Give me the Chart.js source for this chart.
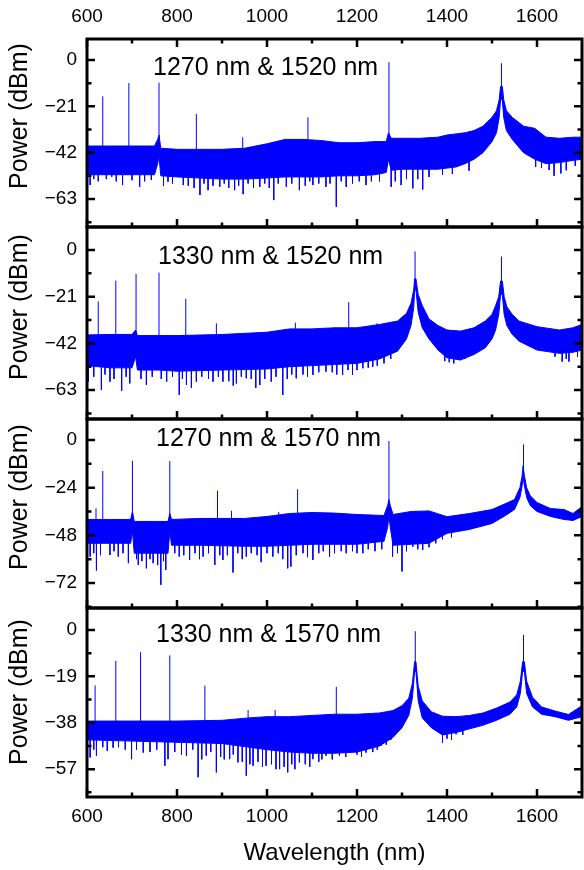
<!DOCTYPE html>
<html>
<head>
<meta charset="utf-8">
<script src="https://cdn.jsdelivr.net/npm/chart.js@4.4.1/dist/chart.umd.min.js"></script>
<style>
  body { margin: 0; background: #fff; }
  #wrap { position: relative; width: 584px; height: 870px; overflow: hidden; background: #fff; }
  canvas { position: absolute; left: 0; }
</style>
</head>
<body>
<div id="wrap">
  <canvas id="c1" width="584" height="229" style="top:0px;width:584px;height:229px"></canvas>
  <canvas id="c2" width="584" height="196" style="top:225px;width:584px;height:196px"></canvas>
  <canvas id="c3" width="584" height="193" style="top:417px;width:584px;height:193px"></canvas>
  <canvas id="c4" width="584" height="264" style="top:606px;width:584px;height:264px"></canvas>
</div>
<script>
// shared x axis
const xTicks = [600, 700, 800, 900, 1000, 1100, 1200, 1300, 1400, 1500, 1600];
const xMajor = [600, 800, 1000, 1200, 1400, 1600];

// ---- panel 1 : 1270 nm & 1520 nm ----
const p1YMajor = [0, -21, -42, -63];
const p1YMinor = [-10.5, -31.5, -52.5, -73.5];
// noise band, upper / lower edge
const p1Wl = [600, 650, 700, 750, 757, 760, 764, 800, 850, 900, 950, 1000, 1040, 1080, 1120, 1160, 1200, 1240, 1265, 1270, 1276, 1300, 1340, 1380, 1400, 1420, 1440, 1460, 1480, 1500, 1510, 1516, 1519, 1523, 1526, 1532, 1545, 1570, 1595, 1620, 1650, 1680, 1700];
const p1Hi = [-39, -39, -39, -39, -36, -34, -40, -40.5, -40.5, -40.5, -40, -38, -36, -36, -36.5, -37.5, -37.5, -37, -37, -33, -35.5, -35.5, -35.5, -35, -34, -33.5, -33, -32, -30, -26, -23, -18, -12, -12, -18, -23, -26, -30, -31, -35, -35.5, -35, -35];
const p1Lo = [-52, -52, -52, -52, -47, -44, -52.5, -53, -53.5, -54, -54, -53.5, -53, -53, -53, -52.5, -52.5, -52, -51, -45, -50, -49.5, -49.5, -49.5, -49, -48.5, -47, -45, -42, -37, -33, -26, -18, -18, -26, -32, -36, -42, -45, -47, -46.5, -45.5, -45];
// sharp lines [wavelength, from, to]
const p1Up = [[635, -42, -16.5], [693, -42, -10.5], [760, -40, -10.3], [843, -44, -24.5], [946, -44, -35], [1091, -40, -26], [1271, -38, -1], [1521, -15, -1.5]];
// downward noise spikes [wavelength, to]
const p1DipTop = -44;
const p1Down = [[607, -56.7], [655, -52.9], [679, -56.7], [717, -57.5], [743, -54.4], [780, -55.2], [814, -56.7], [851, -61.2], [869, -59], [895, -57.5], [928, -59], [947, -60.8], [984, -57.5], [1015, -63.5], [1043, -57.5], [1072, -59], [1102, -56.7], [1131, -57.5], [1154, -66.5], [1176, -57.5], [1220, -56.7], [1276, -57.5], [1298, -56.7], [1324, -58.2], [1346, -58.7], [1412, -51.7], [1449, -50.2], [1597, -48.4], [1627, -49.9], [1638, -52.5], [1653, -51.4]];
const p1Fringe = [[615, -54], [625, -55], [643, -54], [665, -55], [700, -54.5], [728, -55], [770, -57], [790, -56], [825, -57], [838, -58], [860, -56], [880, -57], [905, -56], [915, -58], [937, -57], [958, -56], [970, -58], [995, -56], [1005, -58], [1025, -56], [1055, -56], [1085, -57], [1095, -55], [1115, -56], [1140, -56], [1165, -55], [1190, -56], [1205, -55], [1232, -55], [1250, -55], [1285, -55], [1310, -54], [1335, -54], [1360, -53], [1390, -52], [1610, -49], [1665, -50], [1685, -48]];

// ---- panel 2 : 1330 nm & 1520 nm ----
const p2YMajor = [0, -21, -42, -63];
const p2YMinor = [-10.5, -31.5, -52.5, -73.5];
const p2Wl = [600, 650, 700, 708, 712, 760, 800, 900, 1000, 1050, 1100, 1150, 1200, 1250, 1290, 1310, 1320, 1326, 1328, 1331, 1336, 1345, 1360, 1380, 1400, 1430, 1460, 1485, 1500, 1508, 1515, 1519, 1523, 1527, 1533, 1545, 1560, 1600, 1650, 1680, 1700];
const p2Hi = [-38.2, -38, -38, -36, -38.5, -38.5, -38.5, -38, -37, -35.5, -35.5, -35, -35, -33.5, -32, -28.5, -24, -18, -13, -13, -20, -25, -31, -34, -36, -36.5, -35, -32, -29, -25, -21, -14, -14, -21, -25.5, -29, -32, -34.5, -36, -35, -33.5];
const p2Lo = [-52, -53, -53, -48, -54, -54, -54.5, -54, -53.5, -52.5, -52, -51.5, -51, -49, -45.5, -40, -34, -26, -18, -18, -28, -35, -40, -45, -48.5, -49.5, -47, -44, -40, -36, -29, -20, -20, -29, -34, -38, -41, -45, -46.5, -46, -45];
const p2Up = [[625, -44, -23.2], [664, -44, -13.8], [709, -42, -10.8], [760, -42, -10.2], [819.5, -44, -22], [887.5, -44, -33], [1063, -40, -32.7], [1181.6, -40, -23.5], [1244, -40, -33], [1329, -16, -0.7], [1521, -17, -3]];
const p2DipTop = -44;
const p2Down = [[603, -59.2], [632, -62.9], [651, -59.2], [677, -63.3], [695, -60], [732, -60.7], [777, -59.2], [805, -65.2], [821, -60.7], [843, -59.2], [880, -59.2], [902, -59.2], [932, -60], [954, -57.7], [984, -60.7], [1009.5, -59.2], [1035, -65.2], [1065, -57.7], [1102, -56.2], [1131, -54.7], [1168, -56.2], [1190, -56.2], [1213, -53.2], [1235, -52.5], [1405, -50.5], [1427, -49.5], [1656, -50.2], [1671, -50.2]];
const p2Fringe = [[615, -57], [640, -56], [660, -58], [687, -57], [720, -58], [745, -57], [765, -58], [790, -57], [812, -58], [832, -62], [855, -57], [870, -58], [892, -57], [915, -59], [925, -61], [943, -57], [965, -58], [975, -62], [995, -58], [1020, -57], [1045, -58], [1055, -56], [1080, -56], [1090, -57], [1115, -55], [1145, -55], [1155, -56], [1180, -54], [1200, -54], [1225, -53], [1245, -52], [1260, -51], [1275, -49], [1395, -50], [1415, -51], [1440, -49], [1640, -48], [1665, -49], [1690, -48]];

// ---- panel 3 : 1270 nm & 1570 nm ----
const p3YMajor = [0, -24, -48, -72];
const p3YMinor = [-12, -36, -60, -84];
const p3Wl = [600, 650, 697, 701, 705, 750, 780, 784, 788, 850, 950, 1000, 1050, 1100, 1150, 1200, 1260, 1268, 1271, 1274, 1280, 1320, 1360, 1400, 1450, 1500, 1530, 1550, 1562, 1567, 1569, 1572, 1577, 1585, 1600, 1630, 1660, 1680, 1700];
const p3Hi = [-40, -40, -40, -36, -41, -41, -41, -37, -40, -39.5, -39.5, -38.5, -37, -36.5, -36.8, -37.5, -38, -33, -30, -33, -37.5, -36, -35.7, -38.6, -37, -35, -32, -30, -24, -18, -13, -18, -24, -28, -31.5, -34.5, -35, -37, -33.5];
const p3Lo = [-52, -52, -52, -46, -57, -57, -57, -46, -53, -53, -53.5, -53.5, -53, -52.5, -52.5, -52.5, -51, -44, -38, -44, -53, -52.5, -52, -47, -45, -42, -38, -35, -29, -23, -18, -23, -29, -33, -36, -38.5, -40, -40.5, -38.5];
const p3Up = [[620, -45, -34.4], [635, -45, -15.6], [701, -44, -10.4], [784, -44, -10.6], [890, -45, -25.5], [921, -45, -35.6], [1026, -45, -36.2], [1068, -45, -24.8], [1271, -35, -0.5], [1570, -15, -2.2]];
const p3DipTop = -44;
const p3Down = [[607, -58.7], [621, -65.7], [651, -57.9], [669.5, -58.7], [692, -62], [714, -62.9], [732, -64.6], [747, -62], [764, -72.9], [775, -65.4], [805, -58.7], [828, -60.4], [858, -58.7], [884, -62.9], [902, -60.4], [924.5, -66.7], [954, -58.7], [987, -61.5], [1013, -58.7], [1046, -64.6], [1053, -63.7], [1102, -60.4], [1139, -58.7], [1176, -57], [1213, -57], [1279, -58.7], [1300, -66.2], [1324, -53.7], [1346, -55.4], [1375, -52]];
const p3Fringe = [[615, -57], [630, -58], [660, -56], [680, -57], [710, -60], [722, -61], [740, -60], [757, -63], [770, -61], [795, -57], [815, -58], [840, -57], [850, -60], [870, -57], [895, -58], [912, -58], [935, -57], [945, -60], [965, -57], [978, -58], [1000, -57], [1025, -57], [1035, -60], [1065, -58], [1080, -57], [1090, -59], [1115, -57], [1125, -56], [1150, -57], [1165, -56], [1190, -56], [1200, -57], [1225, -55], [1240, -56], [1255, -55], [1290, -57], [1310, -56], [1335, -55], [1360, -54], [1390, -50], [1410, -49]];

// ---- panel 4 : 1330 nm & 1570 nm ----
const p4YMajor = [0, -19, -38, -57];
const p4YMinor = [-9.5, -28.5, -47.5, -66.5];
const p4Wl = [600, 700, 800, 900, 960, 1000, 1050, 1100, 1150, 1200, 1250, 1280, 1300, 1315, 1323, 1328, 1331, 1336, 1345, 1365, 1390, 1420, 1450, 1480, 1510, 1540, 1555, 1563, 1568, 1572, 1577, 1590, 1610, 1640, 1670, 1700];
const p4Hi = [-37.3, -37.3, -37.3, -37, -36, -35.5, -35.5, -35, -34.5, -34.5, -34, -33, -31, -28, -22, -13, -13, -23, -29, -33.5, -35.3, -35.5, -35, -34, -32, -29.5, -26.5, -21, -13, -13, -21, -27.5, -31.5, -33.2, -34.6, -31];
const p4Lo = [-45, -45.5, -46, -46.5, -48, -49, -50, -50.5, -50.5, -50, -47.5, -44, -40, -35, -28, -17, -17, -29, -36, -40, -43, -42, -40.5, -39, -37, -34.5, -31.5, -26, -17, -17, -26, -31.5, -34.5, -35.5, -37, -35.5];
const p4Up = [[618, -42, -22.7], [664, -42, -12.6], [719, -42, -9.1], [784, -42, -10.4], [862, -42, -22.8], [958, -42, -32.8], [1018, -42, -32.8], [1154, -42, -23.3], [1329.5, -15, -0.5], [1570, -15, -2]];
const p4DipTop = -40;
const p4Down = [[607, -52.2], [621, -51.5], [658, -48.2], [699, -52.9], [725, -50.2], [773, -55.6], [780, -52.9], [821, -51.5], [847, -60.3], [865, -51.5], [887.5, -58.3], [917, -52.9], [935.5, -54.2], [954, -59.7], [969, -55.6], [998, -55.6], [1028, -57], [1046, -58.3], [1072, -54.2], [1102, -52.9], [1131, -51.5], [1161, -51.5], [1190, -48.8], [1220, -50.2], [1253, -47.5], [1390, -46.1], [1420, -42.7]];
const p4Fringe = [[615, -49], [635, -48], [645, -49.5], [670, -48], [685, -49], [710, -49], [740, -50], [755, -49], [795, -50], [810, -51], [835, -49], [855, -53], [875, -50], [897, -52], [905, -53], [925, -51], [945, -54], [962, -55], [980, -54], [990, -56], [1010, -55], [1020, -57], [1038, -56], [1055, -55], [1062, -57], [1085, -55], [1095, -56], [1115, -54], [1122, -53], [1145, -53], [1175, -52], [1200, -51], [1210, -52], [1235, -50], [1245, -49], [1265, -47], [1275, -45], [1400, -44.5], [1410, -45], [1435, -43]];

const BLUE = 'rgb(0,0,255)';
Chart.defaults.font.family = '"Liberation Sans", Arial, sans-serif';
Chart.defaults.color = '#000';

function lineSet(data, extra) {
  return Object.assign({
    data: data, borderColor: BLUE, backgroundColor: BLUE, borderWidth: 1,
    pointRadius: 0, tension: 0, fill: false, spanGaps: false
  }, extra || {});
}

function spectrum(wl, hi, lo, up, down, dipTop) {
  const hiPts = wl.map((w, i) => ({x: w, y: hi[i]}));
  const loPts = wl.map((w, i) => ({x: w, y: lo[i]}));
  const upPts = [];
  up.forEach(s => upPts.push({x: s[0], y: s[1]}, {x: s[0], y: s[2]}, {x: s[0], y: null}));
  const downPts = [];
  down.forEach(s => downPts.push({x: s[0], y: dipTop}, {x: s[0], y: s[1]}, {x: s[0], y: null}));
  return [
    lineSet(hiPts, {fill: '+1'}),
    lineSet(loPts),
    lineSet(upPts),
    lineSet(downPts)
  ];
}

function minusLabel(v) {
  return v < 0 ? '\u2212' + Math.abs(v) : String(v);
}

const framePlugin = {
  id: 'frame',
  afterDatasetsDraw(chart, args, opts) {
    const {ctx, chartArea: a} = chart;
    const x = chart.scales.x, y = chart.scales.y;
    ctx.save();
    ctx.strokeStyle = '#000';
    ctx.lineWidth = 2.5;
    ctx.beginPath();
    y.ticks.forEach(t => {
      const py = y.getPixelForValue(t.value);
      const len = opts.yMajor.includes(t.value) ? 8 : 4.5;
      ctx.moveTo(a.left, py); ctx.lineTo(a.left + len, py);
      ctx.moveTo(a.right, py); ctx.lineTo(a.right - len, py);
    });
    x.ticks.forEach(t => {
      const px = x.getPixelForValue(t.value);
      const len = xMajor.includes(t.value) ? 8 : 4.5;
      ctx.moveTo(px, a.bottom); ctx.lineTo(px, a.bottom - len);
      if (opts.topTicks) { ctx.moveTo(px, a.top); ctx.lineTo(px, a.top + len); }
    });
    ctx.stroke();
    ctx.lineWidth = 3;
    ctx.strokeRect(a.left, a.top, a.right - a.left, a.bottom - a.top);

    ctx.fillStyle = '#000';
    ctx.font = '25px "Liberation Sans", Arial, sans-serif';
    ctx.textAlign = 'left';
    ctx.textBaseline = 'alphabetic';
    ctx.fillText(opts.label, opts.labelX, opts.labelY);

    ctx.translate(20, opts.titleY);
    ctx.rotate(-Math.PI / 2);
    ctx.textAlign = 'center';
    ctx.textBaseline = 'middle';
    ctx.fillText('Power (dBm)', 0, 0);
    ctx.restore();
  }
};

function makePanel(id, p) {
  const yAll = p.yMajor.concat(p.yMinor).sort((m, n) => n - m);
  return new Chart(document.getElementById(id), {
    type: 'line',
    data: {datasets: p.datasets},
    options: {
      responsive: false,
      animation: false,
      events: [],
      layout: {padding: p.padding},
      plugins: {
        legend: {display: false},
        tooltip: {enabled: false},
        frame: p.frame
      },
      scales: {
        x: {
          type: 'linear', position: p.xPos, min: 600, max: 1700,
          afterBuildTicks: s => { s.ticks = xTicks.map(v => ({value: v})); },
          afterFit: s => { s.height = p.xHeight; s.paddingLeft = 0; s.paddingRight = 0; },
          grid: {display: false, drawTicks: false},
          border: {display: false},
          ticks: {
            display: p.xLabels, autoSkip: false, maxRotation: 0, padding: p.xPad,
            font: {size: 19}, color: '#000',
            callback: v => xMajor.includes(v) ? String(v) : ''
          },
          title: {
            display: p.xTitle, text: 'Wavelength (nm)', color: '#000',
            font: {size: 24}, padding: {top: 0, bottom: 2}
          }
        },
        y: {
          type: 'linear', min: p.yMin, max: p.yMax,
          afterBuildTicks: s => { s.ticks = yAll.map(v => ({value: v})); },
          afterFit: s => { s.width = 87; s.paddingTop = 0; s.paddingBottom = 0; },
          grid: {display: false, drawTicks: false},
          border: {display: false},
          ticks: {
            autoSkip: false, padding: 10, font: {size: 19}, color: '#000',
            callback: v => p.yMajor.includes(v) ? minusLabel(v) : ''
          }
        }
      }
    },
    plugins: [framePlugin]
  });
}

makePanel('c1', {
  datasets: spectrum(p1Wl, p1Hi, p1Lo, p1Up, p1Down.concat(p1Fringe), p1DipTop),
  yMajor: p1YMajor, yMinor: p1YMinor, yMin: -75.7, yMax: 9.5,
  xPos: 'top', xHeight: 39, xLabels: true, xPad: 11, xTitle: false,
  padding: {top: 0, bottom: 2, left: 0, right: 2},
  frame: {label: '1270 nm & 1520 nm', labelX: 153, labelY: 74.5, titleY: 116, topTicks: true, yMajor: p1YMajor}
});

makePanel('c2', {
  datasets: spectrum(p2Wl, p2Hi, p2Lo, p2Up, p2Down.concat(p2Fringe), p2DipTop),
  yMajor: p2YMajor, yMinor: p2YMinor, yMin: -76, yMax: 10.3,
  xPos: 'bottom', xHeight: 0, xLabels: false, xPad: 0, xTitle: false,
  padding: {top: 2, bottom: 2, left: 0, right: 2},
  frame: {label: '1330 nm & 1520 nm', labelX: 158, labelY: 39, titleY: 82, topTicks: false, yMajor: p2YMajor}
});

makePanel('c3', {
  datasets: spectrum(p3Wl, p3Hi, p3Lo, p3Up, p3Down.concat(p3Fringe), p3DipTop),
  yMajor: p3YMajor, yMinor: p3YMinor, yMin: -84.6, yMax: 10.6,
  xPos: 'bottom', xHeight: 0, xLabels: false, xPad: 0, xTitle: false,
  padding: {top: 2, bottom: 2, left: 0, right: 2},
  frame: {label: '1270 nm & 1570 nm', labelX: 156, labelY: 29, titleY: 80, topTicks: false, yMajor: p3YMajor}
});

makePanel('c4', {
  datasets: spectrum(p4Wl, p4Hi, p4Lo, p4Up, p4Down.concat(p4Fringe), p4DipTop),
  yMajor: p4YMajor, yMinor: p4YMinor, yMin: -68.4, yMax: 9,
  xPos: 'bottom', xHeight: 73, xLabels: true, xPad: 8, xTitle: true,
  padding: {top: 2, bottom: 0, left: 0, right: 2},
  frame: {label: '1330 nm & 1570 nm', labelX: 156, labelY: 36, titleY: 86, topTicks: false, yMajor: p4YMajor}
});
</script>
</body>
</html>
